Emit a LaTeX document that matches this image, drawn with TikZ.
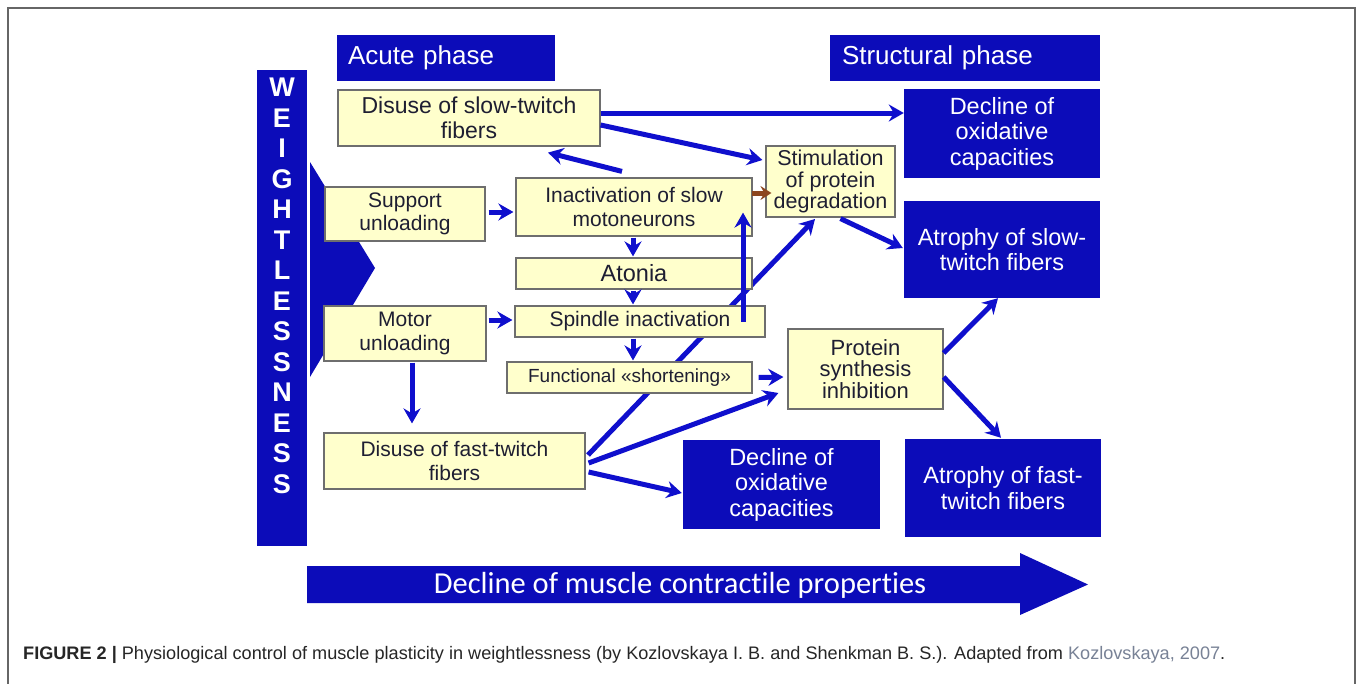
\documentclass[tikz,border=0pt]{standalone}
\usepackage{fontspec}
\setmainfont{Liberation Sans}
\newfontfamily\carlito[Ligatures=NoCommon]{Carlito}
\usetikzlibrary{arrows.meta,calc}
\definecolor{dkblue}{RGB}{12,12,185}
\definecolor{arrblue}{RGB}{15,15,205}
\definecolor{pale}{RGB}{255,255,204}
\definecolor{edgec}{RGB}{110,110,110}
\definecolor{brownarr}{RGB}{140,70,30}
\definecolor{linkc}{RGB}{120,130,150}
\definecolor{txt}{RGB}{30,30,50}
\begin{document}
\begin{tikzpicture}[x=1pt,y=-1pt,
 ybox/.style={draw=edgec, line width=1.2pt, fill=pale, align=center, inner sep=0pt, font=\fontsize{21}{23.5}\selectfont, text=txt},
 bbox/.style={fill=dkblue, align=center, inner sep=0pt, font=\fontsize{23.5}{25.5}\selectfont, text=white},
 arr/.style={draw=arrblue, line width=5pt, -{Stealth[length=15pt,width=17pt,inset=5pt]}},
 brarr/.style={draw=brownarr, line width=5pt, -{Stealth[length=11pt,width=14pt,inset=4pt]}},
 frame/.style={draw=black!60, line width=1.5pt},
]
\useasboundingbox (0,0) rectangle (1357,683);
\fill[white] (0,0) rectangle (1357,683);
\draw[frame] (8,690) -- (8,8) -- (1355,8) -- (1355,690);

% weightlessness bar and chevron
\fill[dkblue] (310,162) -- (375,268) -- (310,377) -- cycle;
\node[fill=dkblue, minimum width=50pt, minimum height=476pt, inner sep=0pt] (wbar) at (282,308) {};
\node[font=\bfseries\fontsize{27}{30.5}\selectfont, text=white, align=center, inner sep=0pt] (wtext) at (282,286)
  {W\\E\\I\\G\\H\\T\\L\\E\\S\\S\\N\\E\\S\\S};

% phase headers
\node[bbox, minimum width=218pt, minimum height=46pt, text width=196pt, align=left, inner xsep=11pt, font=\fontsize{26}{28}\selectfont] (acute) at (446,58) {Acute phase};
\node[bbox, minimum width=270pt, minimum height=46pt, text width=246pt, align=left, inner xsep=12pt, font=\fontsize{26}{28}\selectfont] (struct) at (965,58) {Structural phase};

% long diagonal arrow drawn behind the boxes
\coordinate (fdE) at (588,455);
\coordinate (stimS) at (815,219);
\draw[arr] (fdE) -- (stimS);

% yellow boxes
\node[ybox, minimum width=262pt, minimum height=56pt, font=\fontsize{23}{24.5}\selectfont] (slowdis) at (469,118) {Disuse of slow-twitch\\fibers};
\node[ybox, minimum width=160pt, minimum height=54pt] (support) at (405,214) {Support\\unloading};
\node[ybox, minimum width=236pt, minimum height=58pt] (inact) at (634,207) {Inactivation of slow\\motoneurons};
\node[ybox, minimum width=236pt, minimum height=31pt, font=\fontsize{23.5}{25}\selectfont] (atonia) at (634,273.5) {Atonia};
\node[ybox, minimum width=250pt, minimum height=31pt] (spindle) at (640,321.5) {Spindle inactivation};
\node[ybox, minimum width=245pt, minimum height=31pt, font=\fontsize{19}{21}\selectfont] (functional) at (629.5,377.5) {Functional «shortening»};
\node[ybox, minimum width=162pt, minimum height=55pt] (motor) at (405,333.5) {Motor\\unloading};
\node[ybox, minimum width=261pt, minimum height=56pt] (fastdis) at (454.5,461) {Disuse of fast-twitch\\fibers};
\node[ybox, minimum width=129pt, minimum height=71pt, font=\fontsize{21.5}{21.5}\selectfont] (stim) at (830.5,181.5) {Stimulation\\of protein\\degradation};
\node[ybox, minimum width=155pt, minimum height=80pt, font=\fontsize{22}{21.5}\selectfont] (protsyn) at (865.5,369) {Protein\\synthesis\\inhibition};

% dark boxes
\node[bbox, minimum width=196pt, minimum height=89pt] (decltop) at (1002,133.5) {Decline of\\oxidative\\capacities};
\node[bbox, minimum width=196pt, minimum height=97pt] (atrslow) at (1002,249.5) {Atrophy of slow-\\twitch fibers};
\node[bbox, minimum width=197pt, minimum height=89pt] (declbot) at (781.5,484.5) {Decline of\\oxidative\\capacities};
\node[bbox, minimum width=196pt, minimum height=98pt] (atrfast) at (1003,488) {Atrophy of fast-\\twitch fibers};

% arrows
\draw[arr] ($(slowdis.east)+(0,-5)$) coordinate (a1) -- (a1 -| decltop.west);
\draw[arr] ($(slowdis.east)+(0,7)$) -- ($(stim.west)+(-3,-21.5)$);
\draw[arr] ($(inact.north)+(-12,-6)$) -- ($(slowdis.south)+(79,6)$);
\draw[arr] ($(support.east)+(3,-2)$) -- ($(inact.west)+(-2,5)$);
\draw[arr] ($(inact.south)+(-1,1)$) -- ($(atonia.north)+(-1,-1)$);
\draw[arr] ($(atonia.south)+(-1,1)$) -- ($(spindle.north)+(-7,-1)$);
\draw[arr] ($(spindle.south)+(-7,1)$) -- ($(functional.north)+(3.5,-1)$);
\draw[arr] ($(motor.east)+(2,-13.5)$) -- ($(spindle.west)+(-2,-1.5)$);
\draw[arr] ($(motor.south)+(7,1)$) -- ($(fastdis.north)+(-42.5,-9)$);
\draw[brarr] ($(inact.east)+(-1,-14)$) -- ($(stim.west)+(6,11.5)$);
\draw[arr] ($(fastdis.east)+(3,2)$) -- ($(protsyn.west)+(-9,24)$);
\draw[arr] ($(fastdis.east)+(3,11)$) -- ($(declbot.west)+(-1,8.5)$);
\draw[arr] ($(functional.east)+(6,0)$) -- ($(protsyn.west)+(-4,8)$);
\draw[arr] ($(protsyn.east)+(0,-16)$) -- ($(atrslow.south)+(-4,0)$);
\draw[arr] ($(protsyn.east)+(0,8)$) -- ($(atrfast.north)+(-2,-1)$);
\draw[arr] ($(stim.south)+(10,1)$) -- ($(atrslow.west)+(-1,-1.5)$);
\draw[arr] ($(spindle.center)+(103,0)$) -- ($(inact.south)+(109,-24)$);

% bottom arrow
\fill[dkblue] (307,566) -- (1020,566) -- (1020,553) -- (1088,584.5) -- (1020,615) -- (1020,603) -- (307,603) -- cycle;
\node[font=\carlito\fontsize{30.5}{32}\selectfont, text=white, inner sep=0pt] (decmus) at (680,585) {Decline of muscle contractile properties};

% caption
\node[anchor=west, inner sep=0pt, text=black!85] (cap) at (23,655)
 {\resizebox{1202pt}{!}{\fontsize{14.5}{16}\selectfont\textbf{FIGURE 2 |} Physiological control of muscle plasticity in weightlessness (by Kozlovskaya I. B. and Shenkman B. S.). Adapted from \textcolor{linkc}{Kozlovskaya, 2007}.}};
\end{tikzpicture}
\end{document}
